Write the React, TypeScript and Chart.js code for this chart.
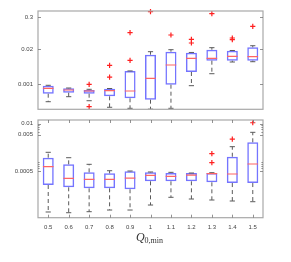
import React, { useEffect, useRef } from "react";
import { Chart, registerables } from "chart.js";

Chart.register(...registerables);

const categories = ["0.5", "0.6", "0.7", "0.8", "0.9", "1", "1.1", "1.2", "1.3", "1.4", "1.5"];

// Top panel
const topQ1 = [0.000451, 0.000491, 0.000451, 0.000362, 0.000306, 0.000272, 0.000967, 0.00283, 0.00737, 0.00737, 0.00737];
const topMed = [0.000713, 0.000617, 0.000567, 0.000582, 0.000567, 0.00166, 0.00512, 0.00903, 0.00903, 0.0107, 0.01034];
const topQ3 = [0.000888, 0.000713, 0.000617, 0.00069, 0.00308, 0.01225, 0.0158, 0.01452, 0.0187, 0.0172, 0.0229];
const topWhiskerLo = [0.000229, 0.00035, 0.000249, 0.000143, 0.000131, 0.000122, 0.000131, 0.00089, 0.00245, 0.0066, 0.00677];
const topWhiskerHi = [0.00092, 0.00073, 0.000655, 0.0007, 0.0031, 0.0158, 0.0187, 0.0148, 0.0222, 0.0175, 0.0262];
const topOutlierCat = ["0.7", "0.7", "0.8", "0.8", "0.9", "0.9", "1", "1.1", "1.2", "1.2", "1.3", "1.4", "1.4", "1.5"];
const topOutlierVal = [0.001, 0.00015, 0.005, 0.00185, 0.0789, 0.00763, 0.47, 0.0649, 0.0451, 0.033, 0.394, 0.0504, 0.0436, 0.1356];
const topTicks = [0.001, 0.02, 0.3];
const topTickLabels = ["0.001", "0.02", "0.3"];
const topMin = 0.0001205;
const topMax = 0.495;

// Bottom panel
const botQ1 = [0.000207, 0.000179, 0.000168, 0.000168, 0.000158, 0.000261, 0.000261, 0.000261, 0.000245, 0.000234, 0.000234];
const botMed = [0.000656, 0.000316, 0.000296, 0.000296, 0.000321, 0.000381, 0.000358, 0.000388, 0.000422, 0.000414, 0.000778];
const botQ3 = [0.001157, 0.000763, 0.00046, 0.000432, 0.000491, 0.00046, 0.000441, 0.000441, 0.000441, 0.00123, 0.00306];
const botWhiskerLo = [0.0000377, 0.000036, 0.0000384, 0.0000427, 0.0000427, 0.0000585, 0.0000952, 0.0000855, 0.0000803, 0.0000754, 0.0000721];
const botWhiskerHi = [0.001627, 0.001157, 0.000763, 0.000509, 0.0005, 0.00047, 0.00046, 0.000441, 0.00045, 0.00232, 0.00574];
const botOutlierCat = ["1.3", "1.3", "1.4", "1.5"];
const botOutlierVal = [0.00149, 0.000844, 0.00376, 0.0105];
const botTicks = [0.0005, 0.005, 0.01];
const botTickLabels = ["0.0005", "0.005", "0.01"];
const botMinorTicks = [0.0006, 0.0007, 0.0008, 0.0009, 0.006, 0.007, 0.008, 0.009];
const botMin = 0.0000263;
const botMax = 0.01249;

const BOX_COLOR = "#7474ff";
const MED_COLOR = "#ff6464";
const WHISKER_COLOR = "#5a5a5a";
const OUTLIER_COLOR = "#ff2020";
const FRAME_COLOR = "#a8a8a8";
const TICK_FONT = { family: "'Liberation Sans', Arial, sans-serif", size: 6 };

function buildDatasets(q1: number[], med: number[], q3: number[], wLo: number[], wHi: number[], oCat: string[], oVal: number[]) {
  const hiLine: any[] = [];
  const loLine: any[] = [];
  categories.forEach((c, i) => {
    hiLine.push({ x: c, y: q3[i] }, { x: c, y: wHi[i] }, { x: c, y: null });
    loLine.push({ x: c, y: q1[i] }, { x: c, y: wLo[i] }, { x: c, y: null });
  });
  const whiskerLine = {
    type: "line",
    borderColor: WHISKER_COLOR,
    borderWidth: 1,
    borderDash: [4, 3],
    pointRadius: 0,
    spanGaps: false,
    order: 3,
  };
  return [
    {
      type: "bar",
      data: categories.map((_, i) => [q1[i], q3[i]]),
      backgroundColor: "rgba(255,255,255,0)",
      borderColor: BOX_COLOR,
      borderWidth: 1.5,
      borderSkipped: false,
      barPercentage: 0.54,
      categoryPercentage: 1,
      order: 4,
    },
    { ...whiskerLine, data: hiLine },
    { ...whiskerLine, data: loLine },
    {
      type: "line",
      data: wHi,
      showLine: false,
      pointStyle: "line",
      pointRadius: 2.6,
      pointBorderColor: WHISKER_COLOR,
      pointBorderWidth: 1,
      order: 2,
    },
    {
      type: "line",
      data: wLo,
      showLine: false,
      pointStyle: "line",
      pointRadius: 2.6,
      pointBorderColor: WHISKER_COLOR,
      pointBorderWidth: 1,
      order: 2,
    },
    {
      type: "line",
      data: med,
      showLine: false,
      pointStyle: "line",
      pointRadius: 5.3,
      pointBorderColor: MED_COLOR,
      pointBorderWidth: 1.2,
      order: 1,
    },
    {
      type: "line",
      data: oCat.map((c, i) => ({ x: c, y: oVal[i] })),
      showLine: false,
      pointStyle: "cross",
      pointRadius: 2.6,
      pointBorderColor: OUTLIER_COLOR,
      pointBorderWidth: 1.2,
      clip: false,
      order: 0,
    },
  ];
}

function framePlugin(majorTicks: number[], minorTicks: number[], xTicks: boolean, xLabel: boolean) {
  return {
    id: "frame",
    afterDraw(chart: any) {
      const { ctx, chartArea } = chart;
      const { left, right, top, bottom } = chartArea;
      const y = chart.scales.y;
      const x = chart.scales.x;
      ctx.save();
      ctx.strokeStyle = FRAME_COLOR;
      ctx.lineWidth = 1.2;
      ctx.strokeRect(left, top, right - left, bottom - top);
      ctx.strokeStyle = "#777777";
      ctx.lineWidth = 0.8;
      ctx.beginPath();
      majorTicks.forEach((v) => {
        const py = Math.round(y.getPixelForValue(v)) + 0.5;
        ctx.moveTo(left, py);
        ctx.lineTo(left + 3, py);
        ctx.moveTo(right, py);
        ctx.lineTo(right - 3, py);
      });
      minorTicks.forEach((v) => {
        const py = Math.round(y.getPixelForValue(v)) + 0.5;
        ctx.moveTo(left, py);
        ctx.lineTo(left + 1.6, py);
        ctx.moveTo(right, py);
        ctx.lineTo(right - 1.6, py);
      });
      if (xTicks) {
        categories.forEach((_, i) => {
          const px = Math.round(x.getPixelForValue(i)) + 0.5;
          ctx.moveTo(px, bottom);
          ctx.lineTo(px, bottom - 3);
          ctx.moveTo(px, top);
          ctx.lineTo(px, top + 3);
        });
      }
      ctx.stroke();
      if (xLabel) {
        const cx = (left + right) / 2;
        ctx.fillStyle = "#333333";
        ctx.textBaseline = "alphabetic";
        ctx.textAlign = "left";
        ctx.font = "italic 12px 'Liberation Serif', serif";
        const qW = ctx.measureText("Q").width;
        ctx.font = "8px 'Liberation Serif', serif";
        const sW = ctx.measureText("0,min").width;
        const start = cx - (qW + sW) / 2 - 1;
        ctx.font = "italic 12px 'Liberation Serif', serif";
        ctx.fillText("Q", start, 241);
        ctx.font = "8px 'Liberation Serif', serif";
        ctx.fillText("0,min", start + qW, 243);
      }
      ctx.restore();
    },
  };
}

function makeConfig(opts: any) {
  const {
    q1, med, q3, wLo, wHi, oCat, oVal, ticks, tickLabels, minorTicks, min, max, padding, showX,
  } = opts;
  return {
    type: "bar",
    data: {
      labels: categories,
      datasets: buildDatasets(q1, med, q3, wLo, wHi, oCat, oVal),
    },
    options: {
      responsive: false,
      animation: false,
      devicePixelRatio: 1,
      layout: { padding },
      plugins: { legend: { display: false }, tooltip: { enabled: false } },
      scales: {
        x: {
          type: "category",
          display: showX,
          offset: true,
          grid: { display: false, drawTicks: false },
          border: { display: false },
          ticks: { font: TICK_FONT, color: "#444444", padding: 6, maxRotation: 0, autoSkip: false },
          afterFit: (s: any) => {
            s.height = showX ? 44.3 : 0;
          },
        },
        y: {
          type: "logarithmic",
          min,
          max,
          grid: { display: false, drawTicks: false },
          border: { display: false },
          afterBuildTicks: (s: any) => {
            s.ticks = ticks.map((v: number) => ({ value: v }));
          },
          afterFit: (s: any) => {
            s.width = 38;
          },
          ticks: {
            font: TICK_FONT,
            color: "#444444",
            padding: 5,
            autoSkip: false,
            callback: (v: number) => {
              const idx = ticks.findIndex((t: number) => Math.abs(t - v) / t < 1e-6);
              return idx >= 0 ? tickLabels[idx] : "";
            },
          },
        },
      },
    },
    plugins: [framePlugin(ticks, minorTicks, showX, showX)],
  };
}

export default function App() {
  const topRef = useRef<HTMLCanvasElement | null>(null);
  const botRef = useRef<HTMLCanvasElement | null>(null);

  useEffect(() => {
    const top = new Chart(topRef.current as HTMLCanvasElement, makeConfig({
      q1: topQ1, med: topMed, q3: topQ3, wLo: topWhiskerLo, wHi: topWhiskerHi,
      oCat: topOutlierCat, oVal: topOutlierVal, ticks: topTicks, tickLabels: topTickLabels,
      minorTicks: [], min: topMin, max: topMax,
      padding: { left: 0, right: 28, top: 11, bottom: 152.7 }, showX: false,
    }) as any);
    const bot = new Chart(botRef.current as HTMLCanvasElement, makeConfig({
      q1: botQ1, med: botMed, q3: botQ3, wLo: botWhiskerLo, wHi: botWhiskerHi,
      oCat: botOutlierCat, oVal: botOutlierVal, ticks: botTicks, tickLabels: botTickLabels,
      minorTicks: botMinorTicks, min: botMin, max: botMax,
      padding: { left: 0, right: 28, top: 120, bottom: 0 }, showX: true,
    }) as any);
    return () => {
      top.destroy();
      bot.destroy();
    };
  }, []);

  const canvasStyle: React.CSSProperties = { position: "absolute", left: 0, top: 0, width: 291, height: 262 };
  return (
    <div style={{ position: "fixed", left: 0, top: 0, width: 291, height: 262, background: "#ffffff" }}>
      <canvas ref={topRef} width={291} height={262} style={canvasStyle} />
      <canvas ref={botRef} width={291} height={262} style={canvasStyle} />
    </div>
  );
}
